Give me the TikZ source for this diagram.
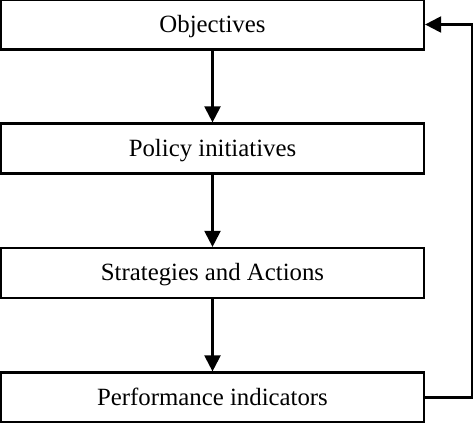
\documentclass[tikz,border=0pt]{standalone}
\usepackage{fontspec}
\setmainfont{Liberation Serif}
\usetikzlibrary{arrows.meta}

\tikzset{stage/.style={draw, line width=1.1pt, minimum width=211.5pt, minimum height=25pt, inner sep=0pt, text height=1.0em, text depth=0.22em, font=\fontsize{12.4}{14}\selectfont}}

\begin{document}
\begin{tikzpicture}[x=0.5pt, y=-0.5pt, >={Triangle[length=8pt,width=8pt]}]
    \useasboundingbox (0,0) rectangle (474,422);
    \node[stage] (obj) at (212.5,24.5) {Objectives};
    \node[stage] (pol) at (212.5,148.5) {Policy initiatives};
    \node[stage] (str) at (212.5,273) {Strategies and Actions};
    \node[stage] (perf) at (212.5,397.5) {Performance indicators};
    \draw[->, line width=1.1pt] (obj) -- (pol);
    \draw[->, line width=1.1pt] (pol) -- (str);
    \draw[->, line width=1.1pt] (str) -- (perf);
    \coordinate (back) at (472,397.5);
    \draw[->, line width=1.1pt] (perf.east) -- (back) |- (obj.east);
\end{tikzpicture}
\end{document}
